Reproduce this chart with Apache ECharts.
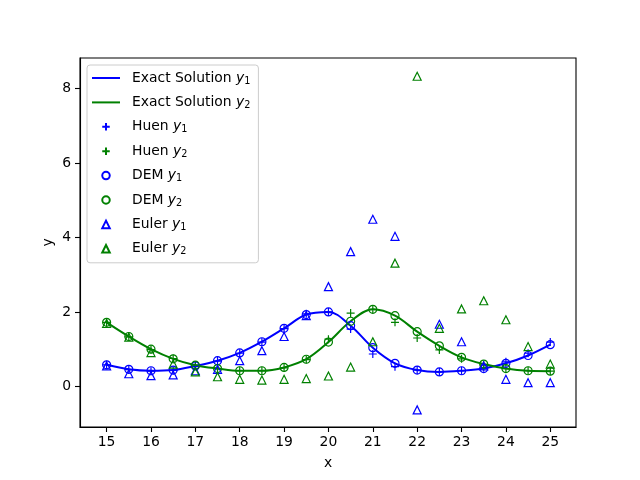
<!DOCTYPE html>
<html>
<head>
<meta charset="utf-8">
<script src="https://cdn.jsdelivr.net/npm/echarts@6/dist/echarts.min.js"></script>
<style>
  html, body { margin: 0; padding: 0; background: #fff; }
  #chart { width: 640px; height: 480px; }
</style>
</head>
<body>
<div id="chart"></div>
<script>
// x 取值点
var xs = [15, 15.5, 16, 16.5, 17, 17.5, 18, 18.5, 19, 19.5, 20, 20.5, 21, 21.5, 22, 22.5, 23, 23.5, 24, 24.5, 25];
// 精确解
var exactY1 = [0.58, 0.46, 0.42, 0.44, 0.55, 0.69, 0.90, 1.20, 1.56, 1.93, 2.00, 1.63, 1.04, 0.62, 0.44, 0.39, 0.42, 0.48, 0.62, 0.83, 1.12];
var exactY2 = [1.72, 1.34, 1.00, 0.74, 0.57, 0.48, 0.42, 0.42, 0.51, 0.73, 1.19, 1.75, 2.07, 1.90, 1.47, 1.09, 0.78, 0.60, 0.48, 0.42, 0.41];
// Huen 方法
var huenY1 = [0.58, 0.45, 0.41, 0.43, 0.54, 0.68, 0.89, 1.19, 1.55, 1.95, 2.00, 1.54, 0.87, 0.53, 0.44, 0.39, 0.42, 0.50, 0.66, 0.89, 1.19];
var huenY2 = [1.72, 1.33, 0.99, 0.75, 0.57, 0.47, 0.42, 0.42, 0.50, 0.72, 1.27, 1.97, 2.07, 1.72, 1.30, 0.98, 0.74, 0.58, 0.48, 0.42, 0.41];
// DEM
var demY1 = [0.58, 0.46, 0.42, 0.44, 0.55, 0.69, 0.90, 1.20, 1.56, 1.93, 2.00, 1.63, 1.04, 0.62, 0.44, 0.39, 0.42, 0.48, 0.62, 0.83, 1.12];
var demY2 = [1.72, 1.34, 1.00, 0.74, 0.57, 0.48, 0.42, 0.42, 0.51, 0.73, 1.19, 1.75, 2.07, 1.90, 1.47, 1.09, 0.78, 0.60, 0.48, 0.42, 0.41];
// Euler
var eulerY1 = [0.55, 0.34, 0.29, 0.31, 0.42, 0.46, 0.69, 0.96, 1.34, 1.90, 2.68, 3.62, 4.49, 4.03, -0.63, 1.67, 1.20, 0.55, 0.19, 0.10, 0.10];
var eulerY2 = [1.69, 1.32, 0.91, 0.60, 0.39, 0.26, 0.19, 0.17, 0.19, 0.21, 0.28, 0.52, 1.20, 3.31, 8.33, 1.56, 2.08, 2.30, 1.79, 1.07, 0.60];
// 刻度
var xTicks = [15, 16, 17, 18, 19, 20, 21, 22, 23, 24, 25];
var yTicks = [0, 2, 4, 6, 8];

var BLUE = '#0000ff';
var GREEN = '#008000';
var FONT = 'DejaVu Sans';
var PLUS = 'path://M0,5L10,5M5,0L5,10';
var TRI = 'path://M5,0L10,10L0,10Z';
var SEG = 'path://M0,0L28,0L28,2L0,2Z';

function pairs(ys) {
    var out = [];
    for (var i = 0; i < xs.length; i++) {
        out.push([xs[i], ys[i]]);
    }
    return out;
}

function lineSeries(name, ys, color) {
    return {
        name: name,
        type: 'line',
        data: pairs(ys),
        smooth: 0.35,
        symbol: 'none',
        lineStyle: { color: color, width: 2 },
        itemStyle: { color: color },
        z: 2
    };
}

function markSeries(name, ys, color, symbol, size) {
    return {
        name: name,
        type: 'scatter',
        data: pairs(ys),
        symbol: symbol,
        symbolSize: size,
        symbolKeepAspect: true,
        itemStyle: { color: 'transparent', borderColor: color, borderWidth: 1.2, opacity: 1 },
        z: 3
    };
}

var chart = echarts.init(document.getElementById('chart'));

var option = {
    animation: false,
    backgroundColor: '#fff',
    textStyle: { fontFamily: FONT },
    grid: {
        left: 80, right: 64, top: 58, bottom: 53,
        show: true, borderColor: '#000', borderWidth: 1.1,
        backgroundColor: 'transparent'
    },
    xAxis: {
        type: 'value',
        min: 14.4, max: 25.58,
        name: 'x', nameLocation: 'middle', nameGap: 29,
        nameTextStyle: { fontFamily: FONT, fontSize: 13.9, color: '#000' },
        splitLine: { show: false },
        axisLine: { show: true, onZero: false, lineStyle: { color: '#000', width: 1.1 } },
        axisTick: { show: true, length: 5, lineStyle: { color: '#000', width: 1.1 }, customValues: xTicks },
        axisLabel: { fontFamily: FONT, fontSize: 13.9, color: '#000', margin: 8, customValues: xTicks }
    },
    yAxis: {
        type: 'value',
        min: -1.09, max: 8.82,
        name: 'y', nameLocation: 'middle', nameGap: 25,
        nameMoveOverlap: false,
        nameTextStyle: { fontFamily: FONT, fontSize: 13.9, color: '#000' },
        splitLine: { show: false },
        axisLine: { show: true, onZero: false, lineStyle: { color: '#000', width: 1.1 } },
        axisTick: { show: true, length: 5, lineStyle: { color: '#000', width: 1.1 }, customValues: yTicks },
        axisLabel: { fontFamily: FONT, fontSize: 13.9, color: '#000', margin: 9, customValues: yTicks }
    },
    legend: {
        orient: 'vertical',
        left: 87, top: 65,
        padding: [6, 8, 6, 5],
        itemGap: 9.4,
        itemWidth: 28,
        itemHeight: 7.5,
        symbolKeepAspect: true,
        backgroundColor: 'rgba(255,255,255,0.8)',
        borderColor: '#cccccc',
        borderWidth: 1,
        borderRadius: 3,
        data: [
            { name: 'Exact Solution y1', icon: SEG, itemStyle: { color: BLUE, borderWidth: 0 } },
            { name: 'Exact Solution y2', icon: SEG, itemStyle: { color: GREEN, borderWidth: 0 } },
            'Huen y1', 'Huen y2',
            'DEM y1', 'DEM y2',
            'Euler y1', 'Euler y2'
        ],
        formatter: function (name) {
            var base = name.slice(0, name.length - 2);
            var sub = name.slice(name.length - 1);
            return '{n|' + base + '}{i|y}{s|' + sub + '}';
        },
        textStyle: {
            fontFamily: FONT, fontSize: 13.9, color: '#000',
            rich: {
                n: { fontFamily: FONT, fontSize: 13.9, color: '#000', padding: [0, 0, 0, 7] },
                i: { fontFamily: FONT, fontSize: 13.9, color: '#000', fontStyle: 'italic' },
                s: { fontFamily: FONT, fontSize: 9.7, color: '#000', padding: [6, 0, 0, 0] }
            }
        }
    },
    series: [
        lineSeries('Exact Solution y1', exactY1, BLUE),
        lineSeries('Exact Solution y2', exactY2, GREEN),
        markSeries('Huen y1', huenY1, BLUE, PLUS, 8),
        markSeries('Huen y2', huenY2, GREEN, PLUS, 8),
        markSeries('DEM y1', demY1, BLUE, 'circle', 8),
        markSeries('DEM y2', demY2, GREEN, 'circle', 8),
        markSeries('Euler y1', eulerY1, BLUE, TRI, 8),
        markSeries('Euler y2', eulerY2, GREEN, TRI, 8)
    ]
};

chart.setOption(option);
</script>
</body>
</html>
